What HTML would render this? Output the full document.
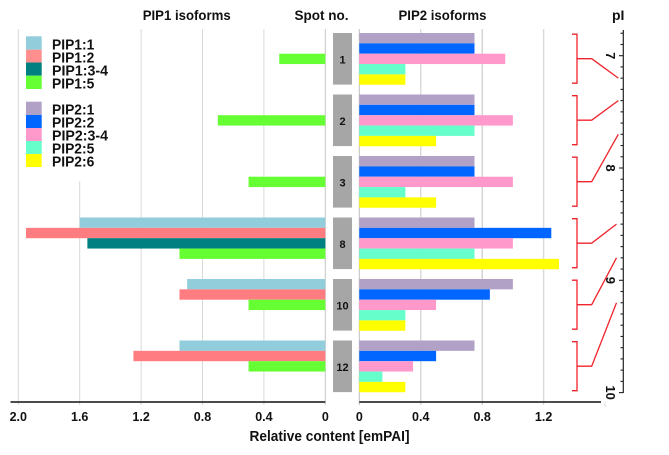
<!DOCTYPE html>
<html lang="en">
<head>
<meta charset="utf-8">
<title>PIP isoforms chart</title>
<style>
html,body{margin:0;padding:0;background:#fff;width:669px;height:455px;overflow:hidden}
svg{display:block}
text{font-family:"Liberation Sans",sans-serif;font-weight:bold;fill:#111}
</style>
</head>
<body>
<svg id="chart" width="669" height="455" viewBox="0 0 669 455" xmlns="http://www.w3.org/2000/svg">
  <rect width="669" height="455" fill="#fff"/>
  <g id="grid"></g>
  <rect x="22" y="29" width="108" height="152" fill="#fff"/>
  <g id="bars"></g>
  <g id="spots"></g>
  <g id="axes"></g>
  <g id="brackets"></g>
  <g id="piaxis"></g>

  <text x="142.7" y="20" font-size="14" textLength="88" lengthAdjust="spacingAndGlyphs">PIP1 isoforms</text>
  <text x="294.5" y="20" font-size="14" textLength="54" lengthAdjust="spacingAndGlyphs">Spot no.</text>
  <text x="398.5" y="20" font-size="14" textLength="88" lengthAdjust="spacingAndGlyphs">PIP2 isoforms</text>
  <text x="612" y="20" font-size="14">pI</text>
  <text x="249.5" y="441" font-size="15" textLength="160" lengthAdjust="spacingAndGlyphs">Relative content [emPAI]</text>

  <g>
    <rect x="26" y="36.3" width="15.7" height="13.4" fill="#92cddc"/>
    <rect x="26" y="49.7" width="15.7" height="12.8" fill="#ff8f8f"/>
    <rect x="26" y="62.5" width="15.7" height="13.2" fill="#008080"/>
    <rect x="26" y="75.7" width="15.7" height="13.3" fill="#66ff33"/>
    <rect x="26" y="101.7" width="15.7" height="13.3" fill="#b2a1c7"/>
    <rect x="26" y="115" width="15.7" height="13" fill="#0066ff"/>
    <rect x="26" y="128" width="15.7" height="13" fill="#ff99cc"/>
    <rect x="26" y="141" width="15.7" height="13" fill="#66ffcc"/>
    <rect x="26" y="154" width="15.7" height="13" fill="#ffff00"/>
    <text x="52" y="49.3" font-size="15" textLength="42.3" lengthAdjust="spacingAndGlyphs">PIP1:1</text>
    <text x="52" y="62.3" font-size="15" textLength="42.3" lengthAdjust="spacingAndGlyphs">PIP1:2</text>
    <text x="52" y="75.3" font-size="15" textLength="56" lengthAdjust="spacingAndGlyphs">PIP1:3-4</text>
    <text x="52" y="88.3" font-size="15" textLength="42.3" lengthAdjust="spacingAndGlyphs">PIP1:5</text>
    <text x="52" y="114.3" font-size="15" textLength="42.3" lengthAdjust="spacingAndGlyphs">PIP2:1</text>
    <text x="52" y="127.3" font-size="15" textLength="42.3" lengthAdjust="spacingAndGlyphs">PIP2:2</text>
    <text x="52" y="140.3" font-size="15" textLength="56" lengthAdjust="spacingAndGlyphs">PIP2:3-4</text>
    <text x="52" y="153.3" font-size="15" textLength="42.3" lengthAdjust="spacingAndGlyphs">PIP2:5</text>
    <text x="52" y="166.3" font-size="15" textLength="42.3" lengthAdjust="spacingAndGlyphs">PIP2:6</text>
  </g>
</svg>
<script>
const spotLabels = ['1', '2', '3', '8', '10', '12'];
const pip1_1 = [null, null, null, 1.6, 0.9, 0.95];
const pip1_2 = [null, null, null, 1.95, 0.95, 1.25];
const pip1_34 = [null, null, null, 1.55, null, null];
const pip1_5 = [0.3, 0.7, 0.5, 0.95, 0.5, 0.5];
const pip2_1 = [0.75, 0.75, 0.75, 0.75, 1.0, 0.75];
const pip2_2 = [0.75, 0.75, 0.75, 1.25, 0.85, 0.5];
const pip2_34 = [0.95, 1.0, 1.0, 1.0, 0.5, 0.35];
const pip2_5 = [0.3, 0.75, 0.3, 0.75, 0.3, 0.15];
const pip2_6 = [0.3, 0.5, 0.5, 1.3, 0.3, 0.3];
const spotPI = [7.2, 7.4, 7.7, 8.5, 8.8, 9.2];
const leftTicks = ['2.0', '1.6', '1.2', '0.8', '0.4', '0'];
const rightTicks = ['0', '0.4', '0.8', '1.2'];
const piLabels = ['7', '8', '9', '10'];

const NS = 'http://www.w3.org/2000/svg';
const xLeft = v => 325.3 - v * 153.5;
const xRight = v => 359.3 + v * 153.6;
const yPI = v => 55.7 + (v - 7) * 112.3;
const groupTop = i => 33 + i * 61.5;
const BAR_H = 10.35;

function make(parent, tag, attrs, txt) {
  const e = document.createElementNS(NS, tag);
  for (const k in attrs) e.setAttribute(k, attrs[k]);
  if (txt !== undefined) e.textContent = txt;
  document.getElementById(parent).appendChild(e);
  return e;
}

/* gridlines */
leftTicks.forEach(t => {
  const v = parseFloat(t);
  const top = v === 1.6 ? 181 : 29;
  const el = make('grid', 'line', {x1: xLeft(v), x2: xLeft(v), y1: top, y2: 405, stroke: v === 0 ? '#c4c4c4' : '#d9d9d9', 'stroke-width': 1});
  
  
});
rightTicks.concat(['1.6']).forEach(t => {
  const v = parseFloat(t);
  const el = make('grid', 'line', {x1: xRight(v), x2: xRight(v), y1: v === 1.6 ? 402 : 29, y2: v === 1.6 ? 407 : 405, stroke: (v === 0 || v === 0.8) ? '#c0c0c0' : '#d9d9d9', 'stroke-width': v === 0.4 || v === 1.2 ? 1.4 : 1});
  
  
});

/* left bars */
const leftSeries = [
  {vals: pip1_1, color: '#92cddc'},
  {vals: pip1_2, color: '#ff7c80'},
  {vals: pip1_34, color: '#008080'},
  {vals: pip1_5, color: '#66ff33'}
];
leftSeries.forEach((s, si) => {
  s.vals.forEach((v, g) => {
    if (v === null) return;
    const slot = si === 3 && pip1_34[g] === null ? 2 : si;
    const el = make('bars', 'rect', {x: xLeft(v), y: groupTop(g) + slot * BAR_H, width: xLeft(0) - xLeft(v), height: BAR_H, fill: s.color});
    
    
  });
});

/* right bars */
const rightSeries = [
  {vals: pip2_1, color: '#b2a1c7'},
  {vals: pip2_2, color: '#0066ff'},
  {vals: pip2_34, color: '#ff99cc'},
  {vals: pip2_5, color: '#66ffcc'},
  {vals: pip2_6, color: '#ffff00'}
];
rightSeries.forEach((s, si) => {
  s.vals.forEach((v, g) => {
    const el = make('bars', 'rect', {x: xRight(0), y: groupTop(g) + si * BAR_H, width: xRight(v) - xRight(0), height: BAR_H, fill: s.color});
    
    
  });
});

/* spot boxes */
spotLabels.forEach((s, g) => {
  const box = make('spots', 'rect', {x: 333, y: groupTop(g), width: 19, height: 51.6, fill: '#a6a6a6'});
  
  
  const lab = make('spots', 'text', {x: 342.5, y: groupTop(g) + 30.7, 'font-size': 11, 'text-anchor': 'middle'}, s);
  
  
});

/* x axes */
const axisL = make('axes', 'line', {x1: 10.5, x2: xLeft(0), y1: 402, y2: 402, stroke: '#111', 'stroke-width': 1.4});


const axisR = make('axes', 'line', {x1: xRight(0), x2: 601, y1: 402, y2: 402, stroke: '#111', 'stroke-width': 1.4});


leftTicks.forEach(t => {
  const el = make('axes', 'text', {x: xLeft(parseFloat(t)), y: 421, 'font-size': 12.5, 'text-anchor': 'middle'}, t);
  
  
});
rightTicks.forEach(t => {
  const el = make('axes', 'text', {x: xRight(parseFloat(t)), y: 421, 'font-size': 12.5, 'text-anchor': 'middle'}, t);
  
  
});

/* brackets: each spot's bracket follows its group, connector points at its pI */
spotPI.forEach((p, g) => {
  const top = groupTop(g) + 1.2;
  const bot = top + 49;
  const mid = top + 24.5;
  const br = make('brackets', 'path', {d: 'M572 ' + top + 'H577V' + bot + 'H572', fill: 'none', stroke: '#f0232b', 'stroke-width': 1.3});
  
  
  const endX = g < 3 ? 618.3 : 616.5;
  const con = make('brackets', 'path', {d: 'M577 ' + mid + 'H591.7L' + endX + ' ' + yPI(p), fill: 'none', stroke: '#f0232b', 'stroke-width': 1.3});
  
  
});

/* pI axis */
const piLine = make('piaxis', 'line', {x1: 623.3, x2: 623.3, y1: 30, y2: 393, stroke: '#222', 'stroke-width': 1.2});


for (let k = -2; k <= 30; k++) {
  const major = k % 10 === 0;
  const yy = yPI(7 + k / 10);
  const tick = make('piaxis', 'line', {x1: major ? 619 : 620.5, x2: 623.3, y1: yy, y2: yy, stroke: '#222', 'stroke-width': 1.1});
  
  
}
piLabels.forEach(t => {
  const yy = yPI(parseFloat(t));
  const el = make('piaxis', 'text', {x: 0, y: 0, 'font-size': 13, 'text-anchor': 'middle', transform: 'translate(606 ' + yy + ') rotate(90)'}, t);
  
  
});
</script>
</body>
</html>
